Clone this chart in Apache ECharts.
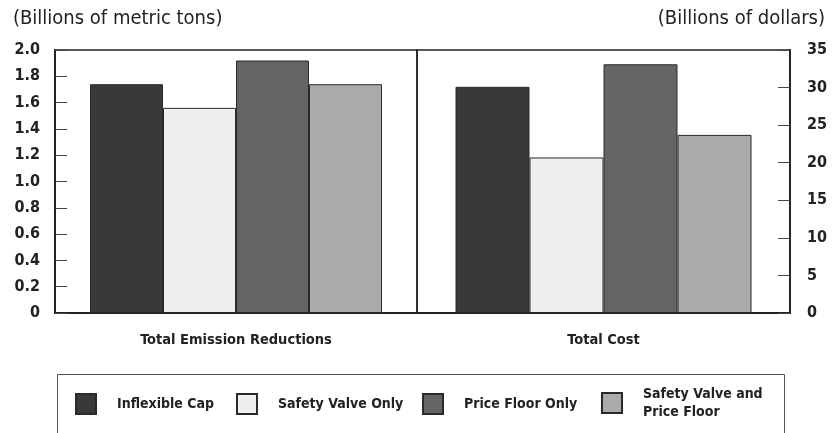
<!DOCTYPE html>
<html>
<head>
<meta charset="utf-8">
<script src="https://cdn.jsdelivr.net/npm/echarts@6/dist/echarts.min.js"></script>
<style>
  html, body { margin: 0; padding: 0; background: #fff; }
  #chart { width: 832px; height: 433px; }
</style>
</head>
<body>
<div id="chart"></div>
<script>
// Panel categories
const categories = ['Total Emission Reductions', 'Total Cost'];
// Policy scenarios (one bar per scenario in each panel)
const scenarios = ['Inflexible Cap', 'Safety Valve Only', 'Price Floor Only', 'Safety Valve and Price Floor'];
// Billions of metric tons
const emissionReductions = [1.74, 1.56, 1.92, 1.74];
// Billions of dollars
const totalCost = [30.1, 20.7, 33.1, 23.7];

const fills = ['#393939', '#efefef', '#646464', '#ababab'];
const FONT = '"Liberation Sans Narrow", "DejaVu Sans Condensed", "Liberation Sans", sans-serif';

const chart = echarts.init(document.getElementById('chart'), null, { renderer: 'canvas' });

const barSeries = [];
scenarios.forEach((name, i) => {
  barSeries.push({
    name: name, type: 'bar', xAxisIndex: 0, yAxisIndex: 0,
    data: [emissionReductions[i]], barWidth: 73, barGap: '0%',
    itemStyle: { color: fills[i], borderColor: '#2a2a2a', borderWidth: 1 }
  });
});
scenarios.forEach((name, i) => {
  barSeries.push({
    name: name, type: 'bar', xAxisIndex: 1, yAxisIndex: 1,
    data: [totalCost[i]], barWidth: 74, barGap: '0%',
    itemStyle: { color: fills[i], borderColor: '#2a2a2a', borderWidth: 1 }
  });
});

const legendLeft = [75, 236, 422, 601];
const legendTop = [393, 393, 393, 385];
const legends = scenarios.map((name, i) => ({
  data: [name], left: legendLeft[i], top: legendTop[i], padding: 0,
  itemWidth: 20, itemHeight: 20, icon: 'rect', selectedMode: false,
  formatter: n => n.replace(' and ', ' and\n'),
  textStyle: { fontFamily: FONT, fontWeight: 'bold', fontSize: 14, color: '#222',
               lineHeight: 18, padding: [0, 0, 0, 16] }
}));

const axisLabelStyle = { fontFamily: FONT, fontWeight: 'bold', fontSize: 16, color: '#222' };
const catLabelStyle = { fontFamily: FONT, fontWeight: 'bold', fontSize: 14.5, color: '#222', margin: 20 };

chart.setOption({
  animation: false,
  backgroundColor: '#fff',
  title: [
    { text: '(Billions of metric tons)', left: 8, top: 4,
      textStyle: { fontFamily: FONT, fontWeight: 'normal', fontSize: 20, color: '#222' } },
    { text: '(Billions of dollars)', right: 2, top: 4,
      textStyle: { fontFamily: FONT, fontWeight: 'normal', fontSize: 20, color: '#222' } }
  ],
  legend: legends,
  grid: [
    { left: 55, top: 50, width: 362, height: 263, show: true, borderColor: '#222', borderWidth: 1.5, backgroundColor: 'transparent' },
    { left: 417, top: 50, width: 373, height: 263, show: true, borderColor: '#222', borderWidth: 1.5, backgroundColor: 'transparent' }
  ],
  xAxis: [
    { type: 'category', gridIndex: 0, data: [categories[0]],
      axisLine: { show: true, lineStyle: { color: '#222', width: 2 } }, axisTick: { show: false },
      axisLabel: catLabelStyle },
    { type: 'category', gridIndex: 1, data: [categories[1]],
      axisLine: { show: true, lineStyle: { color: '#222', width: 2 } }, axisTick: { show: false },
      axisLabel: catLabelStyle }
  ],
  yAxis: [
    { type: 'value', gridIndex: 0, position: 'left', min: 0, max: 2.0, interval: 0.2,
      splitLine: { show: false },
      axisLine: { show: true, lineStyle: { color: '#222', width: 2 } },
      axisTick: { show: true, inside: true, length: 12, lineStyle: { color: '#444', width: 1 } },
      axisLabel: Object.assign({ margin: 15, formatter: v => v === 0 ? '0' : v.toFixed(1) }, axisLabelStyle) },
    { type: 'value', gridIndex: 1, position: 'right', min: 0, max: 35, interval: 5,
      splitLine: { show: false },
      axisLine: { show: true, lineStyle: { color: '#222', width: 2 } },
      axisTick: { show: true, inside: true, length: 12, lineStyle: { color: '#444', width: 1 } },
      axisLabel: Object.assign({ margin: 17 }, axisLabelStyle) }
  ],
  graphic: [
    { type: 'rect', left: 55, top: 372, silent: true,
      shape: { width: 727, height: 59 },
      style: { fill: 'none', stroke: '#555', lineWidth: 1 } }
  ],
  series: barSeries
});
</script>
</body>
</html>
